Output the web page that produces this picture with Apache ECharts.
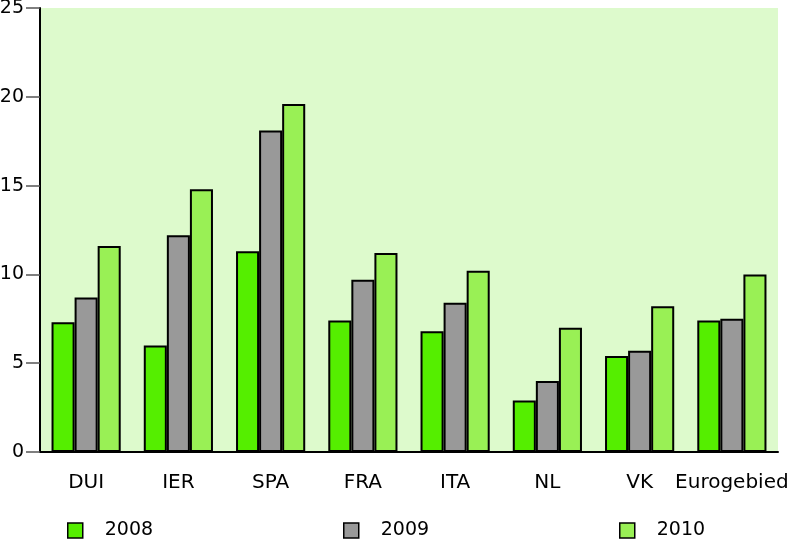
<!DOCTYPE html>
<html><head><meta charset="utf-8">
<script src="https://cdn.jsdelivr.net/npm/echarts@6/dist/echarts.min.js"></script>
<style>html,body{margin:0;padding:0;background:#fff}#c{width:789px;height:539px}</style>
</head><body><div id="c"></div>
<script>
const categories = ['DUI','IER','SPA','FRA','ITA','NL','VK','Eurogebied'];
const s2008 = [7.3, 6.0, 11.3, 7.4, 6.8, 2.9, 5.4, 7.4];
const s2009 = [8.7, 12.2, 18.1, 9.7, 8.4, 4.0, 5.7, 7.5];
const s2010 = [11.6, 14.8, 19.6, 11.2, 10.2, 7.0, 8.2, 10.0];
const yTicks = [0, 5, 10, 15, 20, 25];
const names = ['2008','2009','2010'];
const colors = ['#55ee00','#999999','#99f055'];
const font = 'DejaVu Sans';
const chart = echarts.init(document.getElementById('c'));
const mkLegend = (name, left) => ({
  data: [name], left: left, top: 521, padding: 0, itemWidth: 15, itemHeight: 15,
  icon: 'rect', selectedMode: false,
  itemStyle: {borderColor: '#000', borderWidth: 1.5},
  textStyle: {fontFamily: font, fontSize: 19, color: '#000', padding: [0,0,0,17]}
});
chart.setOption({
  animation: false,
  grid: {left: 40, right: 11, top: 8, bottom: 87, show: true, backgroundColor: '#ddfacc', borderWidth: 0,
         containLabel: false, outerBoundsMode: 'none'},
  legend: [mkLegend('2008', 67), mkLegend('2009', 343), mkLegend('2010', 619)],
  xAxis: {
    type: 'category', data: categories,
    axisLine: {lineStyle: {color: '#000', width: 2}},
    axisTick: {length: 15, lineStyle: {color: '#333', width: 1.5}},
    axisLabel: {fontFamily: font, fontSize: 20, color: '#000', margin: 21, interval: 0}
  },
  yAxis: {
    type: 'value', min: yTicks[0], max: yTicks[yTicks.length-1], interval: 5,
    splitLine: {show: false},
    axisLine: {show: true, lineStyle: {color: '#000', width: 2}},
    axisTick: {show: true, length: 14, lineStyle: {color: '#555', width: 1.5}},
    axisLabel: {fontFamily: font, fontSize: 19, color: '#000', margin: 16}
  },
  series: [s2008, s2009, s2010].map((d, i) => ({
    name: names[i], type: 'bar', data: d, barGap: '0%', barCategoryGap: '25%',
    itemStyle: {color: colors[i], borderColor: '#000', borderWidth: 2}
  }))
});
</script></body></html>
